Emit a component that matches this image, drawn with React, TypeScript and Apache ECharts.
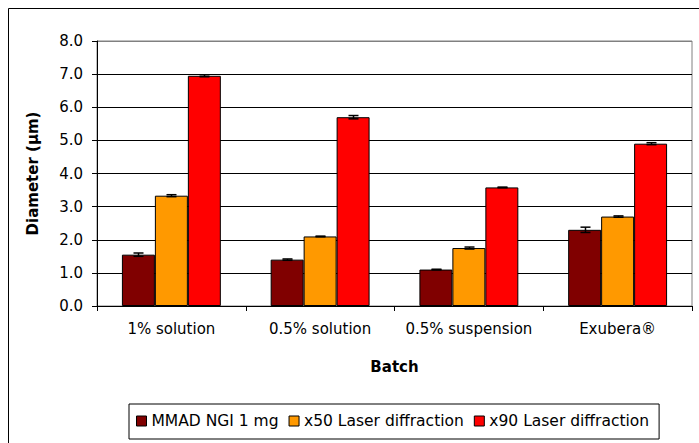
import React, { useEffect, useRef } from "react";
import * as echarts from "echarts";

const categories = ["1% solution", "0.5% solution", "0.5% suspension", "Exubera®"];
const seriesNames = ["MMAD NGI 1 mg", "x50 Laser diffraction", "x90 Laser diffraction"];
const mmadValues = [1.55, 1.4, 1.1, 2.3];
const mmadErrors = [0.05, 0.02, 0.01, 0.08];
const x50Values = [3.33, 2.1, 1.75, 2.7];
const x50Errors = [0.03, 0.01, 0.03, 0.02];
const x90Values = [6.95, 5.7, 3.58, 4.9];
const x90Errors = [0.03, 0.05, 0.01, 0.03];
const colors = ["#800000", "#FF9900", "#FF0000"];

const FONT = "DejaVu Sans";
const GAP = 0.335;

export default function App() {
  const ref = useRef<HTMLDivElement>(null);
  useEffect(() => {
    if (!ref.current) return;
    const chart = echarts.init(ref.current, null, { renderer: "svg" });
    const values = [mmadValues, x50Values, x90Values];
    const errors = [mmadErrors, x50Errors, x90Errors];

    const barSeries = seriesNames.map((name, i) => ({
      name,
      type: "bar",
      data: values[i],
      barGap: "0%",
      barCategoryGap: "33.5%",
      itemStyle: { color: colors[i], borderColor: "#000", borderWidth: 1 },
      z: 2,
    }));

    const errSeries = seriesNames.map((name, i) => ({
      name: name + " error",
      type: "custom",
      z: 5,
      data: values[i].map((v, k) => [k, v, errors[i][k]]),
      renderItem: (params: any, api: any) => {
        const c = api.value(0);
        const v = api.value(1);
        const e = api.value(2);
        const band = api.size([1, 0])[0];
        const bw = (band * (1 - GAP)) / 3;
        const base = api.coord([c, v]);
        const x = Math.round(base[0] + (i - 1) * bw) + 0.5;
        const top = api.coord([c, v + e])[1];
        const bot = api.coord([c, v - e])[1];
        const hw = 5;
        const st = { stroke: "#000", lineWidth: 1.5 };
        return {
          type: "group",
          children: [
            { type: "line", shape: { x1: x, y1: top, x2: x, y2: bot }, style: st },
            { type: "line", shape: { x1: x - hw, y1: top, x2: x + hw, y2: top }, style: st },
            { type: "line", shape: { x1: x - hw, y1: bot, x2: x + hw, y2: bot }, style: st },
          ],
        };
      },
    }));

    chart.setOption({
      animation: false,
      textStyle: { fontFamily: FONT, color: "#000" },
      graphic: [
        {
          type: "rect",
          shape: { x: 0.5, y: 0.5, width: 760, height: 480 },
          style: { fill: "none", stroke: "#000", lineWidth: 1 },
          silent: true,
        },
      ],
      grid: {
        left: 89,
        top: 33,
        right: 7,
        bottom: 137,
        show: true,
        borderColor: "#808080",
        borderWidth: 1,
        backgroundColor: "transparent",
      },
      legend: {
        data: seriesNames,
        left: 121,
        top: 396,
        orient: "horizontal",
        itemWidth: 10,
        itemHeight: 10,
        itemGap: 10,
        padding: [9, 10, 10, 7],
        borderColor: "#000",
        borderWidth: 1,
        icon: "rect",
        textStyle: { fontFamily: FONT, fontSize: 15.5, color: "#000" },
        itemStyle: { borderColor: "#000", borderWidth: 1 },
      },
      xAxis: {
        type: "category",
        data: categories,
        name: "Batch",
        nameLocation: "middle",
        nameGap: 53,
        nameTextStyle: { fontFamily: FONT, fontSize: 15, fontWeight: "bold", color: "#000" },
        axisLine: { lineStyle: { color: "#000", width: 1 } },
        axisTick: { show: true, length: 5, lineStyle: { color: "#000" } },
        axisLabel: { fontFamily: FONT, fontSize: 15, color: "#000", margin: 15, interval: 0 },
      },
      yAxis: {
        type: "value",
        min: 0,
        max: 8,
        interval: 1,
        name: "Diameter (µm)",
        nameLocation: "middle",
        nameGap: 57,
        nameTextStyle: { fontFamily: FONT, fontSize: 15, fontWeight: "bold", color: "#000" },
        axisLine: { show: true, lineStyle: { color: "#000", width: 1 } },
        axisTick: { show: true, length: 5, lineStyle: { color: "#000" } },
        axisLabel: {
          fontFamily: FONT,
          fontSize: 15,
          color: "#000",
          margin: 14,
          formatter: (v: number) => v.toFixed(1),
        },
        splitLine: {
          show: true,
          lineStyle: {
            color: ["#000", "#000", "#000", "#000", "#000", "#000", "#000", "#000", "#808080"],
            width: 1,
          },
        },
      },
      series: [...barSeries, ...errSeries],
    });
    return () => chart.dispose();
  }, []);

  return (
    <div
      ref={ref}
      style={{ position: "absolute", left: 8, top: 8, width: 691, height: 435, background: "#fff" }}
    />
  );
}
